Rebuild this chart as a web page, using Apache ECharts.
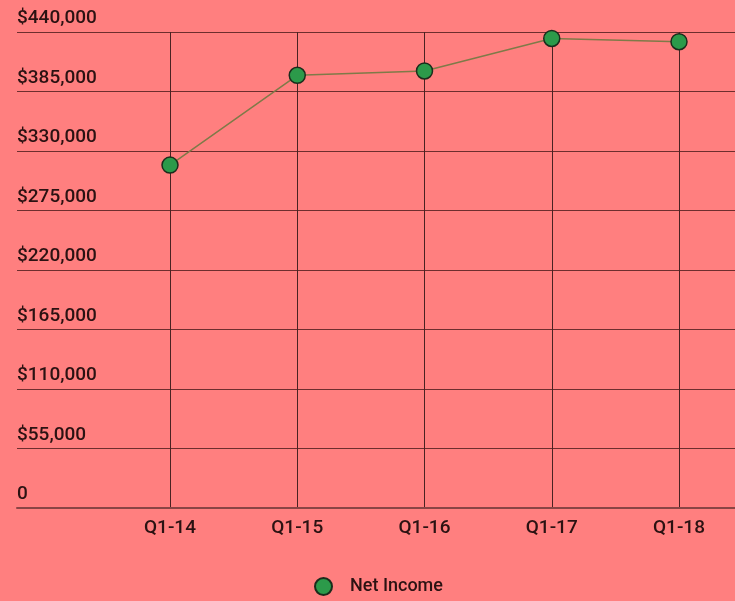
<!DOCTYPE html>
<html>
<head>
<meta charset="utf-8">
<script src="https://cdn.jsdelivr.net/npm/echarts@6/dist/echarts.min.js"></script>
<style>
  html, body { margin: 0; padding: 0; background: #ff7f7f; }
  #chart { width: 735px; height: 601px; }
</style>
</head>
<body>
<div id="chart"></div>
<script>
const categories = ['Q1-14', 'Q1-15', 'Q1-16', 'Q1-17', 'Q1-18'];
const netIncome = [317000, 400000, 404000, 434000, 431000];
const seriesName = 'Net Income';
const yMin = 0;
const yMax = 440000;
const yStep = 55000;

const textColor = '#2b1212';
const chart = echarts.init(document.getElementById('chart'));
chart.setOption({
  backgroundColor: '#ff7f7f',
  animation: false,
  textStyle: { fontFamily: 'Roboto' },
  legend: {
    data: [seriesName],
    left: 314,
    top: 577,
    padding: 0,
    icon: 'circle',
    itemWidth: 17,
    itemHeight: 17,
    textStyle: { fontSize: 18, fontWeight: 500, color: textColor, fontFamily: 'Roboto', padding: [0, 0, 0, 13] }
  },
  grid: [
    { left: 17, right: 0, top: 32, bottom: 93, containLabel: false },
    { left: 170, right: 56, top: 32, bottom: 93, containLabel: false }
  ],
  xAxis: [
    {
      gridIndex: 0, type: 'value', min: 0, max: 1,
      axisLine: { show: true, lineStyle: { color: '#8a4545', width: 2 } },
      axisTick: { show: false }, axisLabel: { show: false }, splitLine: { show: false }
    },
    {
      gridIndex: 1, type: 'category', data: categories, boundaryGap: false,
      axisLine: { show: false }, axisTick: { show: false },
      axisLabel: { fontSize: 19, fontWeight: 500, color: textColor, margin: 11, fontFamily: 'Roboto' },
      splitLine: { show: true, lineStyle: { color: '#4a2222', width: 1 } }
    }
  ],
  yAxis: [
    {
      gridIndex: 0, type: 'value', min: yMin, max: yMax, interval: yStep,
      axisLine: { show: false }, axisTick: { show: false },
      axisLabel: {
        inside: true, margin: 0, align: 'left', verticalAlign: 'bottom',
        padding: [0, 0, 4, 0], fontSize: 19, fontWeight: 500, color: textColor, fontFamily: 'Roboto',
        formatter: function (v) { return v === 0 ? '0' : '$' + v.toLocaleString('en-US'); }
      },
      splitLine: { show: true, lineStyle: { color: '#6e2e2e', width: 1 } }
    },
    {
      gridIndex: 1, type: 'value', min: yMin, max: yMax, show: false
    }
  ],
  series: [
    {
      name: seriesName,
      type: 'line',
      xAxisIndex: 1,
      yAxisIndex: 1,
      data: netIncome,
      symbol: 'circle',
      symbolSize: 16,
      lineStyle: { color: '#7f7a48', width: 1.5 },
      itemStyle: { color: '#2c9a4a', borderColor: '#1c2c1c', borderWidth: 1.5 },
      z: 5
    }
  ]
});
</script>
</body>
</html>
